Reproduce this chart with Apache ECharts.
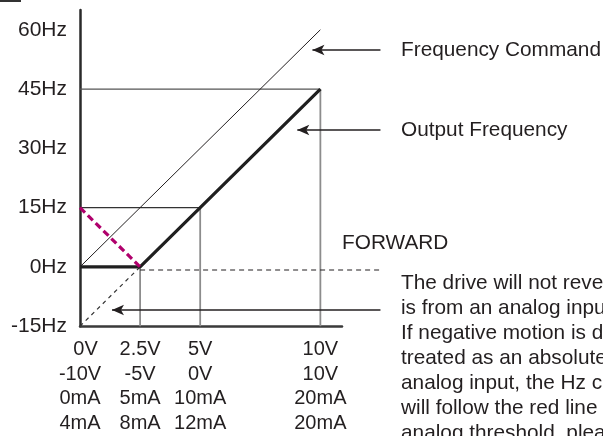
<!DOCTYPE html>
<html><head><meta charset="utf-8">
<script src="https://cdn.jsdelivr.net/npm/echarts@6/dist/echarts.min.js"></script>
<style>html,body{margin:0;padding:0;background:#fff}#c{width:603px;height:436px}</style>
</head><body><div id="c"></div>
<script>
// ---- data ----
const xTicks = [0, 2.5, 5, 10];
const xRow1 = ['  0V', '2.5V', '5V', '10V'];
const xRow2 = ['-10V', '-5V', '0V', '10V'];
const xRow3 = ['0mA', '5mA', '10mA', '20mA'];
const xRow4 = ['4mA', '8mA', '12mA', '20mA'];
const yTicks = [-15, 0, 15, 30, 45, 60];

const freqCommand = [[0, 0], [10, 60]];
const outputFreq = [[0, 0], [2.5, 0], [10, 45]];
const reverseRed = [[0, 15], [2.5, 0]];
const negExtension = [[0, -15], [2.5, 0]];
const zeroDashed = [[2.5, 0], [12.5, 0]];
const ref45 = [[0, 45], [10, 45]];
const ref15 = [[0, 15], [5, 15]];
const vert25 = [[2.5, 0], [2.5, -15]];
const vert5 = [[5, 15], [5, -15]];
const vert10 = [[10, 45], [10, -15]];
// arrows: [fromX, toX, y]
const arrowCmd = [12.5, 9.67, 55];
const arrowOut = [12.5, 9.04, 35];
const arrowNeg = [12.5, 1.33, -10];

const labelCmd = 'Frequency Command';
const labelOut = 'Output Frequency';
const labelFwd = 'FORWARD';
const noteLines = [
  'The drive will not reverse',
  'is from an analog input',
  'If negative motion is desired',
  'treated as an absolute',
  'analog input, the Hz command',
  'will follow the red line',
  'analog threshold, please'
];

const FONT = '"Liberation Sans", Arial, Helvetica, sans-serif';
const TXT = '#231f20';
const XMAX = 10.9;            // visible axis end
const PXV = 262 / XMAX;       // px per volt
const XMAX2 = 520 / PXV;      // extended (annotation) axis end, same scale

function seg(data, color, width, type, gi) {
  return { type: 'line', data: data, symbol: 'none', clip: false, silent: true,
    xAxisIndex: gi || 0, yAxisIndex: gi || 0,
    lineStyle: { color: color, width: width, type: type || 'solid', cap: 'butt' } };
}
function arrow(a) {
  return { type: 'line', clip: false, silent: true, symbol: 'none', showSymbol: true,
    xAxisIndex: 1, yAxisIndex: 1,
    lineStyle: { color: TXT, width: 1.3 },
    data: [[a[0], a[2]], { value: [a[1], a[2]], symbol: 'arrow', symbolSize: [8, 12], symbolRotate: 90,
      itemStyle: { color: TXT } }] };
}

const chart = echarts.init(document.getElementById('c'), null, { renderer: 'canvas' });
chart.setOption({
  animation: false,
  grid: [
    { left: 80, right: 261, top: 10, bottom: 106 },
    { left: 80, width: 520, top: 10, bottom: 106 }
  ],
  xAxis: [{
    type: 'value', min: 0, max: XMAX, interval: 2.5, gridIndex: 0,
    axisLine: { show: true, onZero: false, lineStyle: { color: '#3a3a3a', width: 2.5 } },
    axisTick: { show: false }, splitLine: { show: false },
    axisLabel: {
      margin: 11, color: TXT, fontSize: 20, fontFamily: FONT, lineHeight: 24.7,
      showMaxLabel: false,
      formatter: function (v) {
        const i = xTicks.indexOf(v);
        if (i < 0) return '';
        return [xRow1[i], xRow2[i], xRow3[i], xRow4[i]].join('\n');
      }
    }
  }, {
    type: 'value', min: 0, max: XMAX2, gridIndex: 1, show: false
  }],
  yAxis: [{
    type: 'value', min: -15, max: 65, interval: 15, gridIndex: 0,
    axisLine: { show: true, onZero: false, lineStyle: { color: '#2a2a2a', width: 2.5 } },
    axisTick: { show: false }, splitLine: { show: false },
    axisLabel: {
      margin: 13, color: TXT, fontSize: 21, fontFamily: FONT, padding: [6, 0, 0, 0],
      formatter: function (v) { return yTicks.indexOf(v) >= 0 ? v + 'Hz' : ''; }
    }
  }, {
    type: 'value', min: -15, max: 65, gridIndex: 1, show: false
  }],
  series: [
    seg(ref45, '#555', 1.3),
    seg(ref15, '#333', 1.2),
    seg(vert25, '#8c8c8c', 1.8),
    seg(vert5, '#8c8c8c', 1.8),
    seg(vert10, '#8c8c8c', 1.8),
    seg(zeroDashed, TXT, 1.2, [5, 4], 1),
    seg(negExtension, '#333', 1.2, [4, 4]),
    seg(freqCommand, TXT, 1),
    seg(outputFreq, '#1f1f1f', 3.2),
    seg(reverseRed, '#b0006c', 3.2, [7, 4]),
    arrow(arrowCmd),
    arrow(arrowOut),
    arrow(arrowNeg)
  ],
  graphic: [
    { type: 'line', shape: { x1: 0, y1: 1, x2: 21, y2: 1 }, style: { stroke: '#333', lineWidth: 2 } },
    { type: 'text', x: 401, y: 50, style: { text: labelCmd, font: '20.8px ' + FONT, fill: TXT, verticalAlign: 'middle' } },
    { type: 'text', x: 401, y: 130, style: { text: labelOut, font: '20.8px ' + FONT, fill: TXT, verticalAlign: 'middle' } },
    { type: 'text', x: 342, y: 243, style: { text: labelFwd, font: '20.8px ' + FONT, fill: TXT, verticalAlign: 'middle' } },
    { type: 'text', x: 401, y: 283 - 12.5, style: { text: noteLines.join('\n'), font: '20.8px ' + FONT, lineHeight: 25, fill: TXT, verticalAlign: 'top' } }
  ]
});
</script>
</body></html>
